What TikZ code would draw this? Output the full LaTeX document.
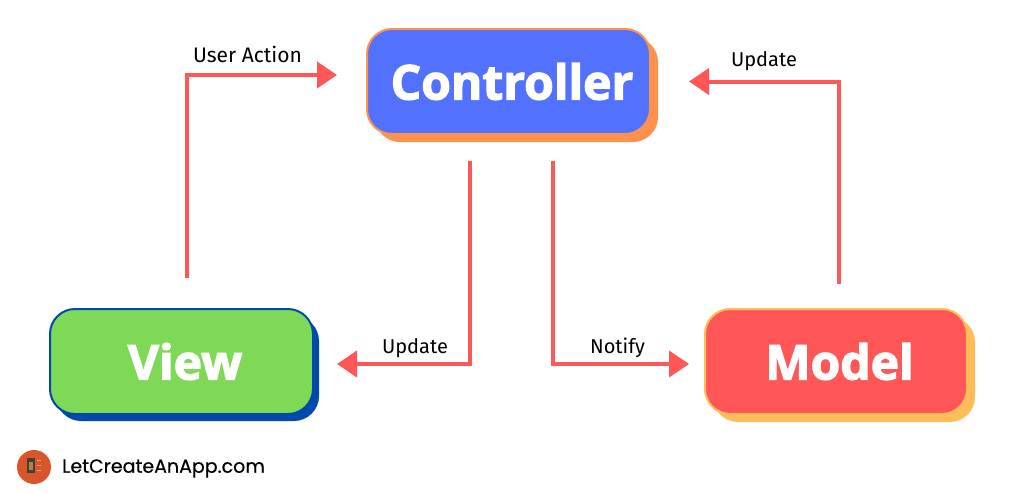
\documentclass[tikz,border=0pt]{standalone}
\usepackage{fontspec}
\setmainfont{Fira Sans}
\newfontfamily\boxfont[BoldFeatures={FakeBold=2.5}]{Open Sans}
\newfontfamily\logofont[FakeBold=0.4]{Poppins}
\usetikzlibrary{arrows.meta,shadows}
\definecolor{flowred}{HTML}{FF5757}
\definecolor{ctrlblue}{HTML}{5271FF}
\definecolor{ctrlorange}{HTML}{FF914D}
\definecolor{viewgreen}{HTML}{7ED957}
\definecolor{viewblue}{HTML}{004AAD}
\definecolor{modelyellow}{HTML}{FFBD59}
\definecolor{logored}{HTML}{D9562B}
\tikzset{
	mvcbox/.style={minimum height=105pt,rounded corners=25pt,outer sep=0pt,line width=2pt,text=white,font=\boxfont\bfseries\fontsize{48}{48}\selectfont},
	flow/.style={draw=flowred,line width=4pt,-{Triangle[length=20pt,width=26pt]}},
	flowlabel/.style={font=\fontsize{20}{20}\selectfont,text=black,inner sep=0pt},
}
\begin{document}
\begin{tikzpicture}[x=1pt,y=-1pt,line join=miter]
	\useasboundingbox (0,0) rectangle (1024,493);
	\fill[white] (0,0) rectangle (1024,493);
	\node[mvcbox,minimum width=283pt,fill=ctrlblue,draw=ctrlorange,copy shadow={fill=ctrlorange,draw=none,shadow xshift=8pt,shadow yshift=-8pt}] (ctrl) at (508.5,81.5) {\hspace*{7pt}Controller};
	\node[mvcbox,minimum width=263pt,fill=viewgreen,draw=viewblue,copy shadow={fill=viewblue,draw=none,shadow xshift=6pt,shadow yshift=-7pt}] (view) at (181.5,361.5) {\hspace*{7pt}View};
	\node[mvcbox,minimum width=262pt,fill=flowred,draw=modelyellow,copy shadow={fill=modelyellow,draw=none,shadow xshift=8pt,shadow yshift=-8pt}] (model) at (836,361.5) {\hspace*{7pt}Model};
	\draw[flow] ([xshift=5.5pt,yshift=31pt]view.north) |- ([xshift=-30pt,yshift=6.5pt]ctrl.west);
	\draw[flow] ([xshift=3pt,yshift=25pt]model.north) |- ([xshift=39pt]ctrl.east);
	\draw[flow] ([xshift=-38.5pt,yshift=-27pt]ctrl.south) |- ([xshift=24pt,yshift=-2.5pt]view.east);
	\draw[flow] ([xshift=44.5pt,yshift=-27pt]ctrl.south) |- ([xshift=-16pt,yshift=-2.5pt]model.west);
	\node[flowlabel,font=\fontsize{21}{21}\selectfont] (action) at (247.5,54.5) {User Action};
	\node[flowlabel] (updatem) at (764,61) {Update};
	\node[flowlabel] (updatev) at (415,348) {Update};
	\node[flowlabel] (notify) at (617.5,348) {Notify};
	\node[circle,fill=logored,minimum size=34pt,inner sep=0pt] (logo) at (34,467) {};
	\fill[black!75] (27,458) rectangle (34.5,473);
	\fill[modelyellow!70!black] (28.5,461.5) rectangle (33,470);
	\foreach \y in {460,465,470} \draw[logored!60!white,line width=.6pt] (37,\y) -- (41,\y);
	\node[anchor=west,inner sep=0pt,font=\logofont\fontsize{19}{19}\selectfont,text=black] (site) at (62,468.5) {LetCreateAnApp.com};
\end{tikzpicture}
\end{document}
